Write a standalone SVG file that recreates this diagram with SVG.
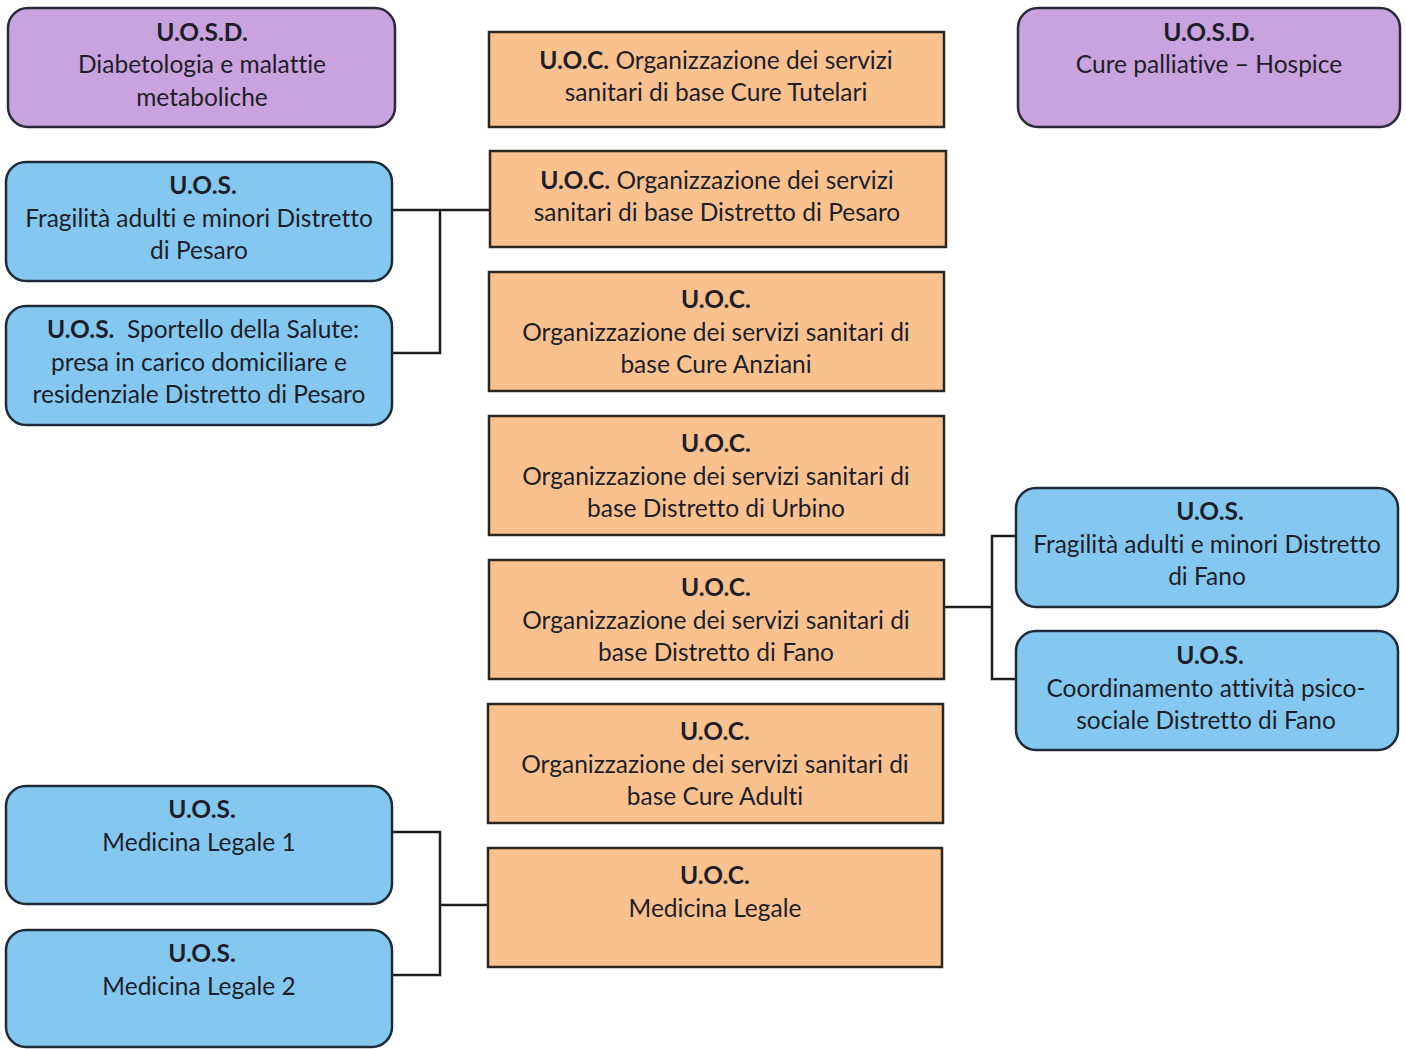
<svg xmlns="http://www.w3.org/2000/svg" width="1406" height="1049" viewBox="0 0 1406 1049">
<style>
.p{fill:#C9A3DD;stroke:#2a2a3a;stroke-width:2.5}
.b{fill:#84C8EF;stroke:#1f2b38;stroke-width:2.5}
.o{fill:#F9C18D;stroke:#2a2620;stroke-width:2.5}
text{font-family:Lato,"Open Sans","Liberation Sans",sans-serif;font-size:24.5px;fill:#1e1e2a;text-anchor:middle;font-variant-ligatures:none;white-space:pre}
.k{font-weight:bold}
.c{fill:none;stroke:#1e1e1e;stroke-width:2.5}
</style>
<rect width="1406" height="1049" fill="#ffffff"/>
<g id="connectors">
<path class="c" d="M392 210H490M440 210V353H392"/>
<path class="c" d="M944 607H992M1016 536H992V679H1016"/>
<path class="c" d="M392 832H440V975H392M440 905H488"/>
</g>
<g id="uosd-diabetologia">
<rect class="p" x="8" y="8" width="387" height="119" rx="20"/>
<text x="202" y="41" class="k">U.O.S.D.</text>
<text x="202" y="73">Diabetologia e malattie</text>
<text x="202" y="106">metaboliche</text>
</g>
<g id="uosd-cure-palliative">
<rect class="p" x="1018" y="8" width="382" height="119" rx="20"/>
<text x="1209" y="41" class="k">U.O.S.D.</text>
<text x="1209" y="73">Cure palliative – Hospice</text>
</g>
<g id="uoc-cure-tutelari">
<rect class="o" x="489" y="32" width="455" height="95"/>
<text x="716" y="69"><tspan class="k">U.O.C.</tspan> Organizzazione dei servizi</text>
<text x="716" y="101">sanitari di base Cure Tutelari</text>
</g>
<g id="uoc-distretto-pesaro">
<rect class="o" x="490" y="151" width="456" height="96"/>
<text x="717" y="189"><tspan class="k">U.O.C.</tspan> Organizzazione dei servizi</text>
<text x="717" y="221">sanitari di base Distretto di Pesaro</text>
</g>
<g id="uoc-cure-anziani">
<rect class="o" x="489" y="272" width="455" height="119"/>
<text x="716" y="308" class="k">U.O.C.</text>
<text x="716" y="341">Organizzazione dei servizi sanitari di</text>
<text x="716" y="373">base Cure Anziani</text>
</g>
<g id="uoc-distretto-urbino">
<rect class="o" x="489" y="416" width="455" height="119"/>
<text x="716" y="452" class="k">U.O.C.</text>
<text x="716" y="485">Organizzazione dei servizi sanitari di</text>
<text x="716" y="517">base Distretto di Urbino</text>
</g>
<g id="uoc-distretto-fano">
<rect class="o" x="489" y="560" width="455" height="119"/>
<text x="716" y="596" class="k">U.O.C.</text>
<text x="716" y="629">Organizzazione dei servizi sanitari di</text>
<text x="716" y="661">base Distretto di Fano</text>
</g>
<g id="uoc-cure-adulti">
<rect class="o" x="488" y="704" width="455" height="119"/>
<text x="715" y="740" class="k">U.O.C.</text>
<text x="715" y="773">Organizzazione dei servizi sanitari di</text>
<text x="715" y="805">base Cure Adulti</text>
</g>
<g id="uoc-medicina-legale">
<rect class="o" x="488" y="848" width="454" height="119"/>
<text x="715" y="884" class="k">U.O.C.</text>
<text x="715" y="917">Medicina Legale</text>
</g>
<g id="uos-fragilita-pesaro">
<rect class="b" x="6" y="162" width="386" height="119" rx="20"/>
<text x="203" y="194" class="k">U.O.S.</text>
<text x="199" y="227">Fragilità adulti e minori Distretto</text>
<text x="199" y="259">di Pesaro</text>
</g>
<g id="uos-sportello-salute">
<rect class="b" x="6" y="306" width="386" height="119" rx="20"/>
<text x="203" y="338"><tspan class="k">U.O.S.</tspan>  Sportello della Salute:</text>
<text x="199" y="371">presa in carico domiciliare e</text>
<text x="199" y="403">residenziale Distretto di Pesaro</text>
</g>
<g id="uos-fragilita-fano">
<rect class="b" x="1016" y="488" width="382" height="119" rx="20"/>
<text x="1210" y="520" class="k">U.O.S.</text>
<text x="1207" y="553">Fragilità adulti e minori Distretto</text>
<text x="1207" y="585">di Fano</text>
</g>
<g id="uos-coordinamento-fano">
<rect class="b" x="1016" y="631" width="382" height="119" rx="20"/>
<text x="1210" y="664" class="k">U.O.S.</text>
<text x="1206" y="697">Coordinamento attività psico-</text>
<text x="1206" y="729">sociale Distretto di Fano</text>
</g>
<g id="uos-medicina-legale-1">
<rect class="b" x="6" y="786" width="386" height="118" rx="20"/>
<text x="202" y="818" class="k">U.O.S.</text>
<text x="199" y="851">Medicina Legale 1</text>
</g>
<g id="uos-medicina-legale-2">
<rect class="b" x="6" y="930" width="386" height="117" rx="20"/>
<text x="202" y="962" class="k">U.O.S.</text>
<text x="199" y="995">Medicina Legale 2</text>
</g>
</svg>
